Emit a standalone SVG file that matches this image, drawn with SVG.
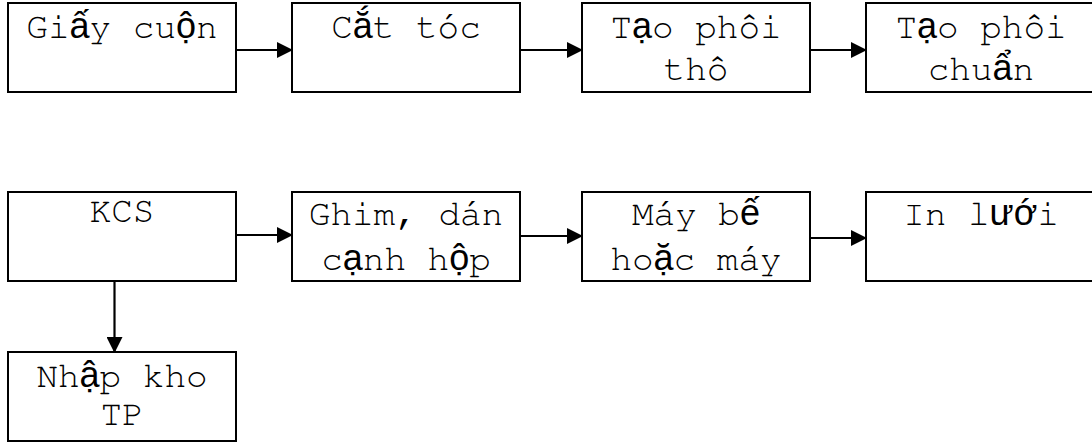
<svg xmlns="http://www.w3.org/2000/svg" width="1092" height="443" viewBox="0 0 1092 443">
  <style>
    .box { fill: #ffffff; stroke: #000000; stroke-width: 2; }
    .lbl { font-family: "Nimbus Mono PS", "Nimbus Mono L", "FreeMono", "Courier New", "Liberation Mono", monospace; font-size: 36px; fill: #000000; text-anchor: middle; }
    .vn { font-family: "Liberation Sans", Arial, sans-serif; }
    .edge { stroke: #000000; stroke-width: 2.2; fill: none; marker-end: url(#head); }
  </style>
  <defs>
    <marker id="head" viewBox="0 0 16 16" refX="16" refY="8" markerWidth="16" markerHeight="16" markerUnits="userSpaceOnUse" orient="auto">
      <path d="M0,0 L16,8 L0,16 Z" fill="#000000"/>
    </marker>
  </defs>
  <rect width="1092" height="443" fill="#ffffff"/>

  <!-- connectors -->
  <g id="connectors">
    <line class="edge" x1="236" y1="50" x2="293" y2="50"/>
    <line class="edge" x1="520" y1="50" x2="583" y2="50"/>
    <line class="edge" x1="810" y1="50" x2="867" y2="50"/>
    <line class="edge" x1="233" y1="235" x2="293" y2="235"/>
    <line class="edge" x1="520" y1="236" x2="583" y2="236"/>
    <line class="edge" x1="810" y1="238" x2="867" y2="238"/>
    <line class="edge" x1="114.5" y1="282" x2="114.5" y2="353"/>
  </g>

  <!-- row 1 -->
  <g id="giay-cuon">
    <rect class="box" x="8" y="3" width="228" height="89"/>
    <text class="lbl" x="122" y="38">Gi<tspan class="vn">ấ</tspan>y cu<tspan class="vn">ộ</tspan>n</text>
  </g>
  <g id="cat-toc">
    <rect class="box" x="292" y="3" width="228" height="89"/>
    <text class="lbl" x="406" y="38">C<tspan class="vn">ắ</tspan>t tóc</text>
  </g>
  <g id="tao-phoi-tho">
    <rect class="box" x="582" y="3" width="228" height="89"/>
    <text class="lbl" x="696" y="38">T<tspan class="vn">ạ</tspan>o phôi</text>
    <text class="lbl" x="696" y="80">thô</text>
  </g>
  <g id="tao-phoi-chuan">
    <rect class="box" x="866" y="3" width="229" height="89"/>
    <text class="lbl" x="981" y="38">T<tspan class="vn">ạ</tspan>o phôi</text>
    <text class="lbl" x="981" y="80">chu<tspan class="vn">ẩ</tspan>n</text>
  </g>

  <!-- row 2 -->
  <g id="kcs">
    <rect class="box" x="8" y="192" width="228" height="89"/>
    <text class="lbl" x="122" y="222">KCS</text>
  </g>
  <g id="ghim-dan">
    <rect class="box" x="292" y="192" width="228" height="89"/>
    <text class="lbl" x="406" y="225">Ghim, dán</text>
    <text class="lbl" x="406" y="270">c<tspan class="vn">ạ</tspan>nh h<tspan class="vn">ộ</tspan>p</text>
  </g>
  <g id="may-be">
    <rect class="box" x="582" y="192" width="228" height="89"/>
    <text class="lbl" x="696" y="225">Máy b<tspan class="vn">ế</tspan></text>
    <text class="lbl" x="696" y="270">ho<tspan class="vn">ặ</tspan>c máy</text>
  </g>
  <g id="in-luoi">
    <rect class="box" x="866" y="192" width="229" height="89"/>
    <text class="lbl" x="981" y="225">In l<tspan class="vn">ướ</tspan>i</text>
  </g>

  <!-- row 3 -->
  <g id="nhap-kho">
    <rect class="box" x="8" y="352" width="228" height="89"/>
    <text class="lbl" x="122" y="387">Nh<tspan class="vn">ậ</tspan>p kho</text>
    <text class="lbl" x="122" y="425">TP</text>
  </g>
</svg>
